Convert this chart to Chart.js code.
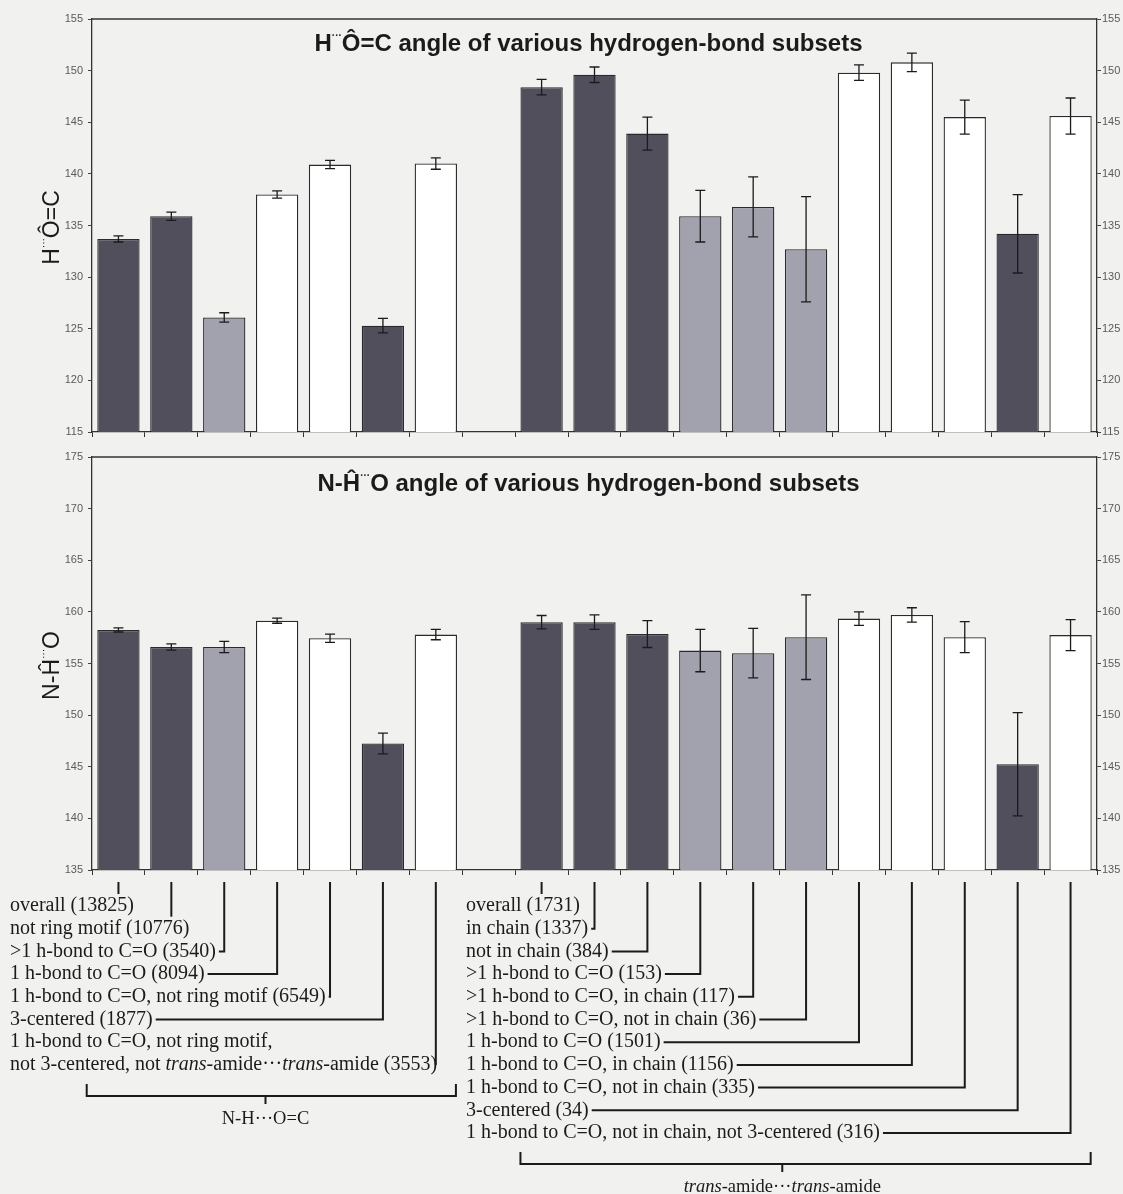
<!DOCTYPE html>
<html>
<head>
<meta charset="utf-8">
<script src="https://cdn.jsdelivr.net/npm/chart.js@4.4.0/dist/chart.umd.min.js"></script>
<style>
  html, body { margin: 0; padding: 0; background: #f1f1f0; }
  #wrap { position: relative; width: 1123px; height: 1194px; overflow: hidden; }
  #hoc { position: absolute; left: 0; top: 0; }
  #nho { position: absolute; left: 0; top: 440px; }
</style>
</head>
<body>
<div id="wrap">
  <canvas id="hoc" width="1123" height="445"></canvas>
  <canvas id="nho" width="1123" height="754"></canvas>
</div>
<script>
// Hydrogen-bond subsets (one slot is left empty between the two families)
const subsetLabels = [
  'overall (13825)',
  'not ring motif (10776)',
  '>1 h-bond to C=O (3540)',
  '1 h-bond to C=O (8094)',
  '1 h-bond to C=O, not ring motif (6549)',
  '3-centered (1877)',
  '1 h-bond to C=O, not ring motif,\nnot 3-centered, not trans-amide\u00B7\u00B7\u00B7trans-amide (3553)',
  '',
  'overall (1731)',
  'in chain (1337)',
  'not in chain (384)',
  '>1 h-bond to C=O (153)',
  '>1 h-bond to C=O, in chain (117)',
  '>1 h-bond to C=O, not in chain (36)',
  '1 h-bond to C=O (1501)',
  '1 h-bond to C=O, in chain (1156)',
  '1 h-bond to C=O, not in chain (335)',
  '3-centered (34)',
  '1 h-bond to C=O, not in chain, not 3-centered (316)'
];

// Fill class of each bar
const barShade = ['dark', 'dark', 'mid', 'white', 'white', 'dark', 'white', null,
                  'dark', 'dark', 'dark', 'mid', 'mid', 'mid', 'white', 'white', 'white', 'dark', 'white'];

// Mean H...O=C angle (degrees) and its standard error
const hocMean = [133.7, 135.9, 126.1, 138.0, 140.9, 125.3, 141.0, null,
                 148.4, 149.6, 143.9, 135.9, 136.8, 132.7, 149.8, 150.8, 145.5, 134.2, 145.6];
const hocErr  = [0.3, 0.4, 0.45, 0.35, 0.4, 0.7, 0.55, null,
                 0.75, 0.75, 1.6, 2.5, 2.9, 5.1, 0.75, 0.9, 1.65, 3.8, 1.75];

// Mean N-H...O angle (degrees) and its standard error
const nhoMean = [158.25, 156.6, 156.6, 159.15, 157.45, 147.25, 157.8, null,
                 159.0, 159.0, 157.85, 156.25, 156.0, 157.55, 159.35, 159.7, 157.55, 145.25, 157.75];
const nhoErr  = [0.2, 0.3, 0.55, 0.25, 0.4, 1.0, 0.5, null,
                 0.65, 0.7, 1.3, 2.05, 2.4, 4.1, 0.65, 0.7, 1.5, 5.0, 1.5];

// Axis ranges / tick spacing
const hocRange = [115, 155];
const nhoRange = [135, 175];
const tickStep = 5;

// Axis titles and panel titles; the contact dots are set small and raised
const hocAxisTitle = ['H', '\u00B7\u00B7\u00B7', '\u00D4=C'];
const nhoAxisTitle = ['N-\u0124', '\u00B7\u00B7\u00B7', 'O'];
const hocPanelTitle = ['H', '\u00B7\u00B7\u00B7', '\u00D4=C angle of various hydrogen-bond subsets'];
const nhoPanelTitle = ['N-\u0124', '\u00B7\u00B7\u00B7', 'O angle of various hydrogen-bond subsets'];

// Families of subsets, bracketed under the labels
const families = [
  { name: 'N-H\u00B7\u00B7\u00B7O=C', first: 0, last: 6, textX: 10, from: -0.6, to: 6.38, mid: 2.78 },
  { name: 'trans-amide\u00B7\u00B7\u00B7trans-amide', first: 8, last: 18, textX: 466, from: 7.6, to: 18.38, mid: 12.55 }
];

const shadeColour = { dark: '#524f5d', mid: '#a2a1ae', white: '#ffffff' };
const SANS = '"Liberation Sans", Arial, Helvetica, sans-serif';
const SERIF = '"Liberation Serif", "Times New Roman", Times, serif';
const INK = '#1b1b1b';

// Draws text with "trans" (before "-amide") set in italics; returns end x
function drawRich(ctx, text, x, y, size, draw = true) {
  const parts = text.split(/(trans)(?=-amide)/);
  let cx = x;
  for (const p of parts) {
    if (!p) continue;
    ctx.font = (p === 'trans' ? 'italic ' : '') + size + 'px ' + SERIF;
    if (draw) ctx.fillText(p, cx, y);
    cx += ctx.measureText(p).width;
  }
  return cx;
}

// Draws [before, dots, after] centred on x with the dots small and raised
function drawDotted(ctx, parts, x, baseline, weight, size) {
  const big = weight + ' ' + size + 'px ' + SANS;
  const small = weight + ' ' + Math.round(size * 0.42) + 'px ' + SANS;
  const fonts = [big, small, big];
  const dys = [0, -size * 0.52, 0];
  const widths = parts.map((p, i) => { ctx.font = fonts[i]; return ctx.measureText(p).width; });
  let cx = x - widths.reduce((s, w) => s + w, 0) / 2;
  ctx.textAlign = 'left';
  ctx.textBaseline = 'alphabetic';
  parts.forEach((p, i) => {
    ctx.font = fonts[i];
    ctx.fillText(p, cx, baseline + dys[i]);
    cx += widths[i];
  });
}

// Plot frame top edge, panel title, axis title and error bars
function panelPlugin(title, axisTitle, means, errs, titleDy) {
  return {
    id: 'panelDecor',
    afterDatasetsDraw(chart) {
      const { ctx, chartArea: a } = chart;
      const ys = chart.scales.y;
      const meta = chart.getDatasetMeta(0);
      ctx.save();
      ctx.strokeStyle = INK;
      ctx.lineWidth = 1.3;
      meta.data.forEach((bar, i) => {
        const m = means[i], e = errs[i];
        if (m == null) return;
        const yt = ys.getPixelForValue(m + e);
        const yb = ys.getPixelForValue(m - e);
        ctx.beginPath();
        ctx.moveTo(bar.x, yt); ctx.lineTo(bar.x, yb);
        ctx.moveTo(bar.x - 5, yt); ctx.lineTo(bar.x + 5, yt);
        ctx.moveTo(bar.x - 5, yb); ctx.lineTo(bar.x + 5, yb);
        ctx.stroke();
      });
      // top edge of the frame
      ctx.strokeStyle = '#333';
      ctx.lineWidth = 1.3;
      ctx.beginPath();
      ctx.moveTo(a.left, a.top); ctx.lineTo(a.right, a.top);
      ctx.stroke();
      // panel title
      ctx.fillStyle = INK;
      drawDotted(ctx, title, (a.left + a.right) / 2 - 6, a.top + titleDy, 'bold', 24);
      // rotated y-axis title
      ctx.save();
      ctx.translate(51, (a.top + a.bottom) / 2 + 2);
      ctx.rotate(-Math.PI / 2);
      drawDotted(ctx, axisTitle, 0, 8, 'normal', 23);
      ctx.restore();
      ctx.restore();
    }
  };
}

// Subset labels with leader lines and family brackets under the lower panel
const labelPlugin = {
  id: 'subsetLabels',
  afterDraw(chart) {
    const { ctx, chartArea: a } = chart;
    const xs = chart.scales.x;
    const size = 20;
    const rowY = r => a.bottom + 36 + r * 22.7;
    const lineTop = a.bottom + 12;
    ctx.save();
    ctx.fillStyle = INK;
    ctx.strokeStyle = INK;
    ctx.lineWidth = 2;
    ctx.textBaseline = 'middle';
    ctx.textAlign = 'left';
    families.forEach(fam => {
      let row = 0;
      for (let i = fam.first; i <= fam.last; i++) {
        const lines = subsetLabels[i].split('\n');
        let endX = 0;
        lines.forEach((ln, k) => { endX = drawRich(ctx, ln, fam.textX, rowY(row + k), size); });
        const xc = xs.getPixelForValue(i);
        const firstRow = row;
        const lastRow = row + lines.length - 1;
        ctx.beginPath();
        if (endX < xc + 4) {
          // leader runs down to the label's last line and turns left to its end
          ctx.moveTo(xc, lineTop);
          ctx.lineTo(xc, rowY(lastRow));
          ctx.lineTo(Math.min(endX + 3, xc), rowY(lastRow));
        } else {
          // label sits under the bar: short leader stops above it
          ctx.moveTo(xc, lineTop);
          ctx.lineTo(xc, rowY(firstRow) - 12);
        }
        ctx.stroke();
        row += lines.length;
      }
      // bracket spanning the family
      const by = rowY(row - 1) + 31;
      const x0 = xs.getPixelForValue(fam.from);
      const x1 = xs.getPixelForValue(fam.to);
      const xm = xs.getPixelForValue(fam.mid);
      ctx.beginPath();
      ctx.moveTo(x0, by - 12); ctx.lineTo(x0, by); ctx.lineTo(x1, by); ctx.lineTo(x1, by - 12);
      ctx.moveTo(xm, by); ctx.lineTo(xm, by + 8);
      ctx.stroke();
      const w = drawRich(ctx, fam.name, 0, 0, 18.5, false);
      drawRich(ctx, fam.name, xm - w / 2, by + 23, 18.5);
    });
    ctx.restore();
  }
};

function buildPanel(canvasId, means, errs, range, axisTitle, title, padTop, padBottom, titleDy, extraPlugins) {
  const yAxis = (position, width, pad) => ({
    position,
    min: range[0], max: range[1],
    ticks: { stepSize: tickStep, color: '#5a5a5a', padding: pad, font: { family: SANS, size: 11 } },
    grid: { drawOnChartArea: false, drawTicks: true, tickLength: 4, color: '#444', lineWidth: 1 },
    border: { display: true, color: '#333', width: 1.3 },
    afterFit: s => { s.width = width; }
  });
  return new Chart(document.getElementById(canvasId), {
    type: 'bar',
    data: {
      labels: subsetLabels,
      datasets: [{
        data: means,
        backgroundColor: barShade.map(s => s ? shadeColour[s] : 'transparent'),
        borderColor: '#2a2a2a',
        borderWidth: 1.3,
        borderSkipped: false,
        barPercentage: 0.8,
        categoryPercentage: 1.0
      }]
    },
    options: {
      responsive: false,
      animation: false,
      layout: { padding: { top: padTop, bottom: padBottom, left: 0, right: 0 } },
      plugins: { legend: { display: false }, tooltip: { enabled: false }, title: { display: false } },
      scales: {
        x: {
          type: 'category',
          offset: true,
          grid: { offset: true, drawOnChartArea: false, drawTicks: true, tickLength: 5, color: '#333', lineWidth: 1 },
          border: { display: true, color: '#333', width: 1.3 },
          ticks: { display: false },
          afterFit: s => { s.height = 10; }
        },
        y: yAxis('left', 92, 5),
        y2: yAxis('right', 26, 1)
      }
    },
    plugins: [panelPlugin(title, axisTitle, means, errs, titleDy)].concat(extraPlugins)
  });
}

buildPanel('hoc', hocMean, hocErr, hocRange, hocAxisTitle, hocPanelTitle, 19, 3, 32, []);
buildPanel('nho', nhoMean, nhoErr, nhoRange, nhoAxisTitle, nhoPanelTitle, 17, 314, 34, [labelPlugin]);
</script>
</body>
</html>
